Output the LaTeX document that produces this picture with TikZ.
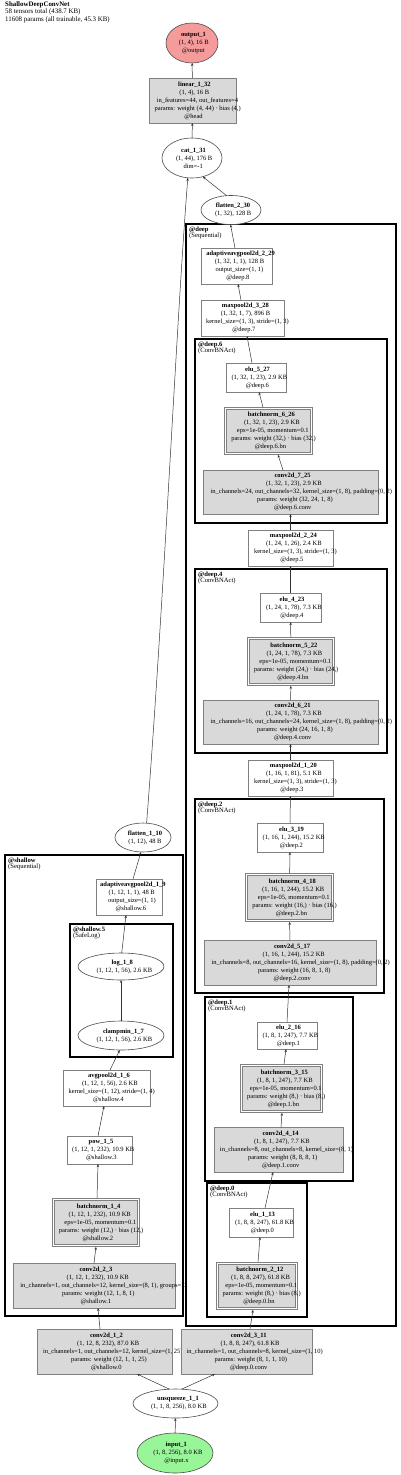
\documentclass[tikz,border=0pt]{standalone}
\usepackage{fontspec}
\setmainfont{Liberation Serif}
\usetikzlibrary{arrows.meta,shapes.geometric}
\definecolor{boxgray}{RGB}{217,217,217}
\definecolor{bordergray}{RGB}{128,128,128}
\definecolor{outred}{RGB}{245,155,155}
\definecolor{ingreen}{RGB}{152,245,152}
\definecolor{edgecol}{RGB}{50,50,50}
\newsavebox\lnbox
\newcommand\Ln[1]{\sbox\lnbox{#1}\makebox[0pt][l]{\hspace{-0.44\wd\lnbox}\usebox\lnbox}}
\newcommand\Nm[1]{\Ln{\bfseries #1}}
\begin{document}
\begin{tikzpicture}[x=1pt,y=-1pt,
  base/.style={inner sep=0pt, outer sep=0pt, align=center, font=\fontsize{6.5}{8}\selectfont, line width=0.6pt},
  wbox/.style={base, rectangle, draw=bordergray, fill=white},
  gbox/.style={base, rectangle, draw=bordergray, fill=boxgray},
  dbox/.style={base, rectangle, draw=bordergray, fill=boxgray, double=white, double distance=1.4pt, outer sep=1.3pt},
  ell/.style={base, ellipse, draw=black!70, fill=white},
  cluster/.style={draw=black, line width=2pt},
  clabel/.style={anchor=north west, inner sep=0pt, align=left, font=\fontsize{6.6}{6}\selectfont},
  edge/.style={draw=edgecol, line width=0.5pt, -{Stealth[length=3pt, width=2.4pt]}}]
\useasboundingbox (0,0) rectangle (400,1475);

% title
\node[anchor=north west, inner sep=0pt, align=left, font=\fontsize{6.9}{6}\selectfont] (title) at (5,1.5)
 {\textbf{ShallowDeepConvNet}\\58 tensors total (438.7 KB)\\11608 params (all trainable, 45.3 KB)};

% clusters
\draw[cluster] (186,224) rectangle (396,1326);
\node[clabel] (ldeep) at (189,227) {\textbf{@deep}\\(Sequential)};
\draw[cluster] (195,339) rectangle (387,523);
\node[clabel] (ldeep6) at (198,342) {\textbf{@deep.6}\\(ConvBNAct)};
\draw[cluster] (195,569) rectangle (387,753);
\node[clabel] (ldeep4) at (198,572) {\textbf{@deep.4}\\(ConvBNAct)};
\draw[cluster] (195,799) rectangle (384,993);
\node[clabel] (ldeep2) at (198,802) {\textbf{@deep.2}\\(ConvBNAct)};
\draw[cluster] (205,997) rectangle (353,1181);
\node[clabel] (ldeep1) at (208,1000) {\textbf{@deep.1}\\(ConvBNAct)};
\draw[cluster] (207,1183) rectangle (307,1317);
\node[clabel] (ldeep0) at (210,1186) {\textbf{@deep.0}\\(ConvBNAct)};
\draw[cluster] (5,855) rectangle (183,1316);
\node[clabel] (lshallow) at (8,858) {\textbf{@shallow}\\(Sequential)};
\draw[cluster] (70,924) rectangle (173,1057);
\node[clabel] (lshallow5) at (73,927) {\textbf{@shallow.5}\\(SafeLog)};

% top
\node[ell, fill=outred, minimum width=52, minimum height=40] (out) at (192,43)
 {\Nm{output\_1}\\\Ln{(1, 4), 16 B}\\\Ln{@output}};
\node[gbox, minimum width=87, minimum height=45] (lin) at (192.5,100.5)
 {\Nm{linear\_1\_32}\\\Ln{(1, 4), 16 B}\\\Ln{in\_features=44, out\_features=4}\\\Ln{params: weight (4, 44) · bias (4,)}\\\Ln{@head}};
\node[ell, minimum width=60, minimum height=40] (cat) at (192,158)
 {\Nm{cat\_1\_31}\\\Ln{(1, 44), 176 B}\\\Ln{dim=-1}};
\node[ell, minimum width=60, minimum height=29] (fl230) at (231,210)
 {\Nm{flatten\_2\_30}\\\Ln{(1, 32), 128 B}};

% deep
\node[wbox, minimum width=71, minimum height=36] (aap229) at (236.5,266)
 {\Nm{adaptiveavgpool2d\_2\_29}\\\Ln{(1, 32, 1, 1), 128 B}\\\Ln{output\_size=(1, 1)}\\\Ln{@deep.8}};
\node[wbox, minimum width=83, minimum height=36] (mp328) at (242.5,318)
 {\Nm{maxpool2d\_3\_28}\\\Ln{(1, 32, 1, 7), 896 B}\\\Ln{kernel\_size=(1, 3), stride=(1, 3)}\\\Ln{@deep.7}};
\node[wbox, minimum width=60, minimum height=29] (elu527) at (256,377.5)
 {\Nm{elu\_5\_27}\\\Ln{(1, 32, 1, 23), 2.9 KB}\\\Ln{@deep.6}};
\node[dbox, minimum width=86, minimum height=45] (bn626) at (268.5,431)
 {\Nm{batchnorm\_6\_26}\\\Ln{(1, 32, 1, 23), 2.9 KB}\\\Ln{eps=1e-05, momentum=0.1}\\\Ln{params: weight (32,) · bias (32,)}\\\Ln{@deep.6.bn}};
\node[gbox, minimum width=175, minimum height=44] (c725) at (290.5,492)
 {\Nm{conv2d\_7\_25}\\\Ln{(1, 32, 1, 23), 2.9 KB}\\\Ln{in\_channels=24, out\_channels=32, kernel\_size=(1, 8), padding=(0, 2)}\\\Ln{params: weight (32, 24, 1, 8)}\\\Ln{@deep.6.conv}};
\node[wbox, minimum width=85, minimum height=36] (mp224) at (290.5,548)
 {\Nm{maxpool2d\_2\_24}\\\Ln{(1, 24, 1, 26), 2.4 KB}\\\Ln{kernel\_size=(1, 3), stride=(1, 3)}\\\Ln{@deep.5}};
\node[wbox, minimum width=61, minimum height=29] (elu423) at (290.5,607.5)
 {\Nm{elu\_4\_23}\\\Ln{(1, 24, 1, 78), 7.3 KB}\\\Ln{@deep.4}};
\node[dbox, minimum width=85, minimum height=46] (bn522) at (291,661.5)
 {\Nm{batchnorm\_5\_22}\\\Ln{(1, 24, 1, 78), 7.3 KB}\\\Ln{eps=1e-05, momentum=0.1}\\\Ln{params: weight (24,) · bias (24,)}\\\Ln{@deep.4.bn}};
\node[gbox, minimum width=175, minimum height=44] (c621) at (290.5,722)
 {\Nm{conv2d\_6\_21}\\\Ln{(1, 24, 1, 78), 7.3 KB}\\\Ln{in\_channels=16, out\_channels=24, kernel\_size=(1, 8), padding=(0, 2)}\\\Ln{params: weight (24, 16, 1, 8)}\\\Ln{@deep.4.conv}};
\node[wbox, minimum width=85, minimum height=36] (mp120) at (290.5,778)
 {\Nm{maxpool2d\_1\_20}\\\Ln{(1, 16, 1, 81), 5.1 KB}\\\Ln{kernel\_size=(1, 3), stride=(1, 3)}\\\Ln{@deep.3}};
\node[wbox, minimum width=66, minimum height=29] (elu319) at (290,837.5)
 {\Nm{elu\_3\_19}\\\Ln{(1, 16, 1, 244), 15.2 KB}\\\Ln{@deep.2}};
\node[dbox, minimum width=86, minimum height=46] (bn418) at (289.5,897.5)
 {\Nm{batchnorm\_4\_18}\\\Ln{(1, 16, 1, 244), 15.2 KB}\\\Ln{eps=1e-05, momentum=0.1}\\\Ln{params: weight (16,) · bias (16,)}\\\Ln{@deep.2.bn}};
\node[gbox, minimum width=172, minimum height=45] (c517) at (290,962.5)
 {\Nm{conv2d\_5\_17}\\\Ln{(1, 16, 1, 244), 15.2 KB}\\\Ln{in\_channels=8, out\_channels=16, kernel\_size=(1, 8), padding=(0, 2)}\\\Ln{params: weight (16, 8, 1, 8)}\\\Ln{@deep.2.conv}};
\node[wbox, minimum width=60, minimum height=27] (elu216) at (287,1035.5)
 {\Nm{elu\_2\_16}\\\Ln{(1, 8, 1, 247), 7.7 KB}\\\Ln{@deep.1}};
\node[dbox, minimum width=80, minimum height=46] (bn315) at (281.5,1088.5)
 {\Nm{batchnorm\_3\_15}\\\Ln{(1, 8, 1, 247), 7.7 KB}\\\Ln{eps=1e-05, momentum=0.1}\\\Ln{params: weight (8,) · bias (8,)}\\\Ln{@deep.1.bn}};
\node[gbox, minimum width=129, minimum height=45] (c414) at (278.5,1149.5)
 {\Nm{conv2d\_4\_14}\\\Ln{(1, 8, 1, 247), 7.7 KB}\\\Ln{in\_channels=8, out\_channels=8, kernel\_size=(8, 1)}\\\Ln{params: weight (8, 8, 8, 1)}\\\Ln{@deep.1.conv}};
\node[wbox, minimum width=64, minimum height=29] (elu113) at (261,1222.5)
 {\Nm{elu\_1\_13}\\\Ln{(1, 8, 8, 247), 61.8 KB}\\\Ln{@deep.0}};
\node[dbox, minimum width=79, minimum height=45] (bn212) at (257,1286)
 {\Nm{batchnorm\_2\_12}\\\Ln{(1, 8, 8, 247), 61.8 KB}\\\Ln{eps=1e-05, momentum=0.1}\\\Ln{params: weight (8,) · bias (8,)}\\\Ln{@deep.0.bn}};

% shallow
\node[ell, minimum width=56, minimum height=29] (fl110) at (143,837.5)
 {\Nm{flatten\_1\_10}\\\Ln{(1, 12), 48 B}};
\node[wbox, minimum width=66, minimum height=36] (aap19) at (129,897)
 {\Nm{adaptiveavgpool2d\_1\_9}\\\Ln{(1, 12, 1, 1), 48 B}\\\Ln{output\_size=(1, 1)}\\\Ln{@shallow.6}};
\node[ell, minimum width=86, minimum height=27] (log18) at (121,966.5)
 {\Nm{log\_1\_8}\\\Ln{(1, 12, 1, 56), 2.6 KB}};
\node[ell, minimum width=86, minimum height=29] (clamp17) at (121,1035.5)
 {\Nm{clampmin\_1\_7}\\\Ln{(1, 12, 1, 56), 2.6 KB}};
\node[wbox, minimum width=87, minimum height=36] (avg16) at (106.5,1088)
 {\Nm{avgpool2d\_1\_6}\\\Ln{(1, 12, 1, 56), 2.6 KB}\\\Ln{kernel\_size=(1, 12), stride=(1, 4)}\\\Ln{@shallow.4}};
\node[wbox, minimum width=65, minimum height=28] (pow15) at (99.5,1150)
 {\Nm{pow\_1\_5}\\\Ln{(1, 12, 1, 232), 10.9 KB}\\\Ln{@shallow.3}};
\node[dbox, minimum width=85, minimum height=46] (bn14) at (96,1222.5)
 {\Nm{batchnorm\_1\_4}\\\Ln{(1, 12, 1, 232), 10.9 KB}\\\Ln{eps=1e-05, momentum=0.1}\\\Ln{params: weight (12,) · bias (12,)}\\\Ln{@shallow.2}};
\node[gbox, minimum width=162, minimum height=45] (c23) at (94,1285.5)
 {\Nm{conv2d\_2\_3}\\\Ln{(1, 12, 1, 232), 10.9 KB}\\\Ln{in\_channels=1, out\_channels=12, kernel\_size=(8, 1), groups=12}\\\Ln{params: weight (12, 1, 8, 1)}\\\Ln{@shallow.1}};

% bottom
\node[gbox, minimum width=135, minimum height=45] (c12) at (104.5,1351.5)
 {\Nm{conv2d\_1\_2}\\\Ln{(1, 12, 8, 232), 87.0 KB}\\\Ln{in\_channels=1, out\_channels=12, kernel\_size=(1, 25)}\\\Ln{params: weight (12, 1, 1, 25)}\\\Ln{@shallow.0}};
\node[gbox, minimum width=131, minimum height=45] (c311) at (246.5,1351.5)
 {\Nm{conv2d\_3\_11}\\\Ln{(1, 8, 8, 247), 61.8 KB}\\\Ln{in\_channels=1, out\_channels=8, kernel\_size=(1, 10)}\\\Ln{params: weight (8, 1, 1, 10)}\\\Ln{@deep.0.conv}};
\node[ell, minimum width=85, minimum height=29] (unsq) at (175.5,1403.5)
 {\Nm{unsqueeze\_1\_1}\\\Ln{(1, 1, 8, 256), 8.0 KB}};
\node[ell, fill=ingreen, minimum width=76, minimum height=40] (inp) at (175,1453)
 {\Nm{input\_1}\\\Ln{(1, 8, 256), 8.0 KB}\\\Ln{@input.x}};

% edges
\draw[edge] (inp) -- (unsq);
\draw[edge] (unsq.113) -- ([xshift=32.5]c12.south);
\draw[edge] (unsq.67) -- ([xshift=-31.5]c311.south);
\draw[edge] ([xshift=-4.5]c12.north) -- ([xshift=4]c23.south);
\draw[edge] (c23.north) -- (bn14.south);
\draw[edge] ([xshift=1]bn14.north) -- ([xshift=-1.5]pow15.south);
\draw[edge] ([xshift=-1.5]pow15.north) -- ([xshift=-2.5]avg16.south);
\draw[edge] ([xshift=3.5]avg16.north) -- (clamp17.265);
\draw[edge] (clamp17) -- (log18);
\draw[edge] (log18.87) -- ([xshift=-3]aap19.south);
\draw[edge] ([xshift=4]aap19.north) -- (fl110.262);
\draw[edge] (fl110.76) .. controls (164,600) and (176,330) .. (cat.258);
\draw[edge] (fl230.107) -- (cat.300);
\draw[edge] (cat) -- (lin);
\draw[edge] (lin) -- (out);
\draw[edge] ([xshift=-1.5]aap229.north) -- (fl230.268);
\draw[edge] ([xshift=-1.5]mp328.north) -- ([xshift=1.5]aap229.south);
\draw[edge] ([xshift=-4]elu527.north) -- ([xshift=4.5]mp328.south);
\draw[edge] ([xshift=-5.5]bn626.north) -- ([xshift=3]elu527.south);
\draw[edge] ([xshift=-7.5]c725.north) -- ([xshift=9.5]bn626.south);
\draw[edge] (mp224) -- (c725);
\draw[edge] (elu423) -- (mp224);
\draw[edge] (bn522) -- (elu423);
\draw[edge] (c621) -- (bn522);
\draw[edge] (mp120) -- (c621);
\draw[edge] (elu319) -- (mp120);
\draw[edge] (bn418) -- (elu319);
\draw[edge] (c517) -- (bn418);
\draw[edge] (elu216.north) -- ([xshift=-1]c517.south);
\draw[edge] ([xshift=2.5]bn315.north) -- ([xshift=-1]elu216.south);
\draw[edge] ([xshift=2.5]c414.north) -- ([xshift=0.5]bn315.south);
\draw[edge] ([xshift=4]elu113.north) -- ([xshift=-5.5]c414.south);
\draw[edge] ([xshift=1]bn212.north) -- ([xshift=-1]elu113.south);
\draw[edge] ([xshift=3.5]c311.north) -- ([xshift=-4]bn212.south);
\end{tikzpicture}
\end{document}
